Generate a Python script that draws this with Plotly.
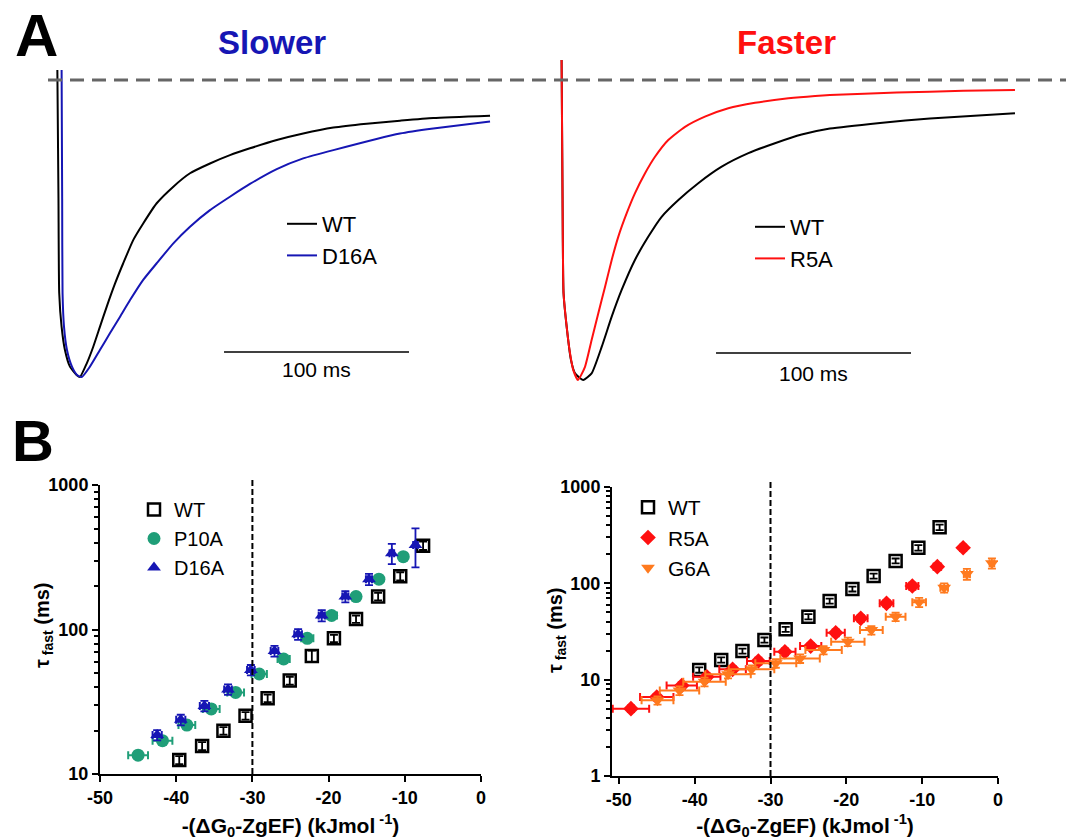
import plotly.graph_objects as go

FONT = "Arial, Liberation Sans, sans-serif"
W, H = 1066, 840

# ---------------- Panel A : normalized currents (time in ms) ----------------
slow_wt_t = [0.2, 0.8, 1.2, 2.5, 4.3, 7.0, 10.6, 12.4, 16.1, 19.6, 23.2, 26.9, 31.4, 35.8, 41.2, 46.6, 53.9, 62.9, 71.9, 82.7, 93.5, 104.3, 118.8, 133.1, 149.4, 167.4, 185.4, 203.4, 234.1]
slow_wt_i = [0.034, -0.40, -0.717, -0.831, -0.909, -0.965, -0.993, -1.0, -0.954, -0.898, -0.831, -0.763, -0.685, -0.617, -0.539, -0.483, -0.415, -0.359, -0.314, -0.281, -0.253, -0.230, -0.202, -0.180, -0.160, -0.147, -0.137, -0.128, -0.120]
slow_mut_t = [2.5, 2.8, 3.0, 3.8, 5.4, 8.1, 10.8, 13.4, 17.8, 23.2, 28.6, 34.1, 39.5, 46.6, 53.9, 62.9, 71.9, 82.7, 93.5, 104.3, 118.8, 133.1, 149.4, 185.4, 203.4, 234.1]
slow_mut_i = [0.034, -0.40, -0.717, -0.831, -0.909, -0.965, -0.993, -1.0, -0.965, -0.909, -0.853, -0.797, -0.741, -0.673, -0.617, -0.550, -0.494, -0.438, -0.393, -0.350, -0.300, -0.264, -0.236, -0.180, -0.163, -0.140]

fast_mut_t = [0.3, 0.8, 1.3, 2.9, 4.6, 6.3, 8.7, 12.3, 15.7, 19.1, 22.6, 26.0, 29.4, 33.7, 37.9, 43.1, 48.2, 55.0, 63.6, 73.8, 85.8, 99.5, 116.6, 130.3, 137.9, 172.2, 206.3, 232.8]
fast_mut_i = [0.067, -0.40, -0.71, -0.822, -0.91, -0.967, -1.0, -0.956, -0.867, -0.778, -0.689, -0.60, -0.522, -0.444, -0.378, -0.311, -0.256, -0.20, -0.156, -0.122, -0.094, -0.076, -0.061, -0.053, -0.05, -0.042, -0.036, -0.033]
fast_wt_t = [0.3, 0.8, 1.3, 2.9, 5.1, 7.2, 11.4, 15.7, 20.9, 26.0, 31.1, 37.9, 44.8, 51.6, 60.2, 70.4, 82.4, 96.1, 109.7, 123.4, 137.9, 163.6, 189.2, 232.8]
fast_wt_i = [0.067, -0.40, -0.71, -0.822, -0.933, -0.978, -1.0, -0.978, -0.889, -0.789, -0.70, -0.60, -0.522, -0.456, -0.40, -0.344, -0.289, -0.244, -0.211, -0.182, -0.162, -0.143, -0.128, -0.111]

# ---------------- Panel B : tau_fast vs -(dG0 - ZgEF) ----------------
x_tickvals = [-50, -40, -30, -20, -10, 0]
x_ticktext = ["-50", "-40", "-30", "-20", "-10", "0"]

L_wt_x = [-39.6, -36.6, -33.8, -30.9, -28.0, -25.1, -22.2, -19.3, -16.4, -13.5, -10.6, -7.6]
L_wt_y = [12.5, 15.6, 19.9, 25.3, 33.4, 44.3, 65.5, 86.9, 118, 169, 234, 380]
L_wt_ey = [0.8, 1.0, 1.2, 1.5, 2.0, 2.8, 6.0, 5.0, 7.0, 10, 15, 25]

L_p10_x = [-45.0, -41.8, -38.6, -35.4, -32.2, -29.1, -25.9, -22.8, -19.6, -16.4, -13.4, -10.2]
L_p10_y = [13.5, 17.0, 21.8, 28.2, 36.7, 49.2, 62.5, 86.9, 125, 169, 223, 319]
L_p10_ex = [1.3, 1.3, 1.1, 1.1, 1.1, 1.0, 0.8, 0.8, 0.7, 0.5, 0.4, 0.3]
L_p10_ey = [0.8, 1.0, 1.3, 1.6, 2.0, 2.8, 3.5, 5, 7, 9, 12, 18]

L_d16_x = [-42.5, -39.4, -36.3, -33.2, -30.2, -27.1, -24.0, -20.9, -17.8, -14.7, -11.7, -8.6]
L_d16_y = [18.6, 23.7, 29.6, 38.5, 52.5, 71.0, 92.7, 125, 169, 223, 337, 385]
L_d16_ex = [0.6, 0.6, 0.6, 0.5, 0.5, 0.5, 0.5, 0.4, 0.4, 0.4, 0.3, 0.3]
L_d16_ey = [1.5, 2.0, 2.5, 3.2, 4.3, 6.0, 8.0, 11, 15, 20, 54, 116]

R_wt_x = [-39.4, -36.5, -33.7, -30.8, -28.0, -25.0, -22.2, -19.2, -16.4, -13.5, -10.5, -7.7]
R_wt_y = [12.6, 16.0, 19.8, 25.8, 33.3, 45.0, 65.5, 87.3, 119, 171, 234, 381]
R_wt_ey = [0.8, 1.0, 1.2, 1.6, 2.0, 2.8, 4.0, 5.0, 7.0, 10, 15, 25]

R_r5_x = [-48.4, -45.0, -41.7, -38.4, -35.0, -31.6, -28.1, -24.7, -21.4, -18.1, -14.7, -11.3, -8.0, -4.6]
R_r5_y = [5.0, 6.6, 8.7, 10.7, 12.8, 15.6, 19.5, 22.3, 30.7, 43.3, 62.0, 93.8, 149, 234]
R_r5_ex = [2.4, 2.2, 2.0, 1.8, 1.75, 1.5, 1.4, 1.4, 1.2, 0.9, 0.9, 0.8, 0.5, 0.3]
R_r5_ey = [0.4, 0.5, 0.7, 0.9, 1.0, 1.3, 1.6, 1.8, 2.5, 3.5, 5.0, 8.0, 12, 18]

R_g6_x = [-44.9, -42.0, -38.7, -35.6, -32.5, -29.3, -26.1, -23.0, -19.8, -16.7, -13.5, -10.4, -7.1, -4.1, -0.8]
R_g6_y = [6.1, 7.7, 9.5, 11.4, 12.8, 14.8, 16.6, 20.3, 24.8, 32.7, 45.0, 63.6, 89.9, 125, 162]
R_g6_ex = [2.1, 2.6, 2.8, 3.0, 3.0, 2.7, 2.6, 2.4, 2.2, 1.5, 1.3, 0.9, 0.5, 0.4, 0.3]
R_g6_ey = [0.6, 0.8, 1.0, 1.1, 1.3, 1.5, 1.7, 2.0, 2.5, 3.3, 4.5, 7.0, 10, 16, 20]

BLACK = "#000000"
BLUE = "#1616b4"
GREEN = "#1f9e78"
RED = "#ff1010"
ORANGE = "#ff7a1e"

fig = go.Figure()

# ---- traces panel A ----
def trace_line(t, i, name, color, xa, ya, legend):
    fig.add_trace(go.Scatter(x=t, y=i, mode="lines", name=name,
                             line=dict(color=color, width=2, shape="spline", smoothing=0.5),
                             xaxis=xa, yaxis=ya, legend=legend))

trace_line(slow_wt_t, slow_wt_i, "WT", BLACK, "x3", "y3", "legend3")
trace_line(slow_mut_t, slow_mut_i, "D16A", BLUE, "x3", "y3", "legend3")
trace_line(fast_wt_t, fast_wt_i, "WT", BLACK, "x4", "y4", "legend4")
trace_line(fast_mut_t, fast_mut_i, "R5A", RED, "x4", "y4", "legend4")

# ---- scatter panel B ----
def pts(x, y, ex, ey, name, color, symbol, size, xa, ya, legend, open_=False):
    if open_:
        marker = dict(symbol=symbol, size=size, color=color, line=dict(color=color, width=2.5))
    else:
        marker = dict(symbol=symbol, size=size, color=color, line=dict(width=0))
    fig.add_trace(go.Scatter(
        x=x, y=y, mode="markers", name=name, marker=marker,
        error_x=dict(type="data", array=ex if ex is not None else [], color=color, thickness=2, width=4,
                     visible=ex is not None),
        error_y=dict(type="data", array=ey, color=color, thickness=1.8, width=4),
        xaxis=xa, yaxis=ya, legend=legend))

pts(L_wt_x, L_wt_y, None, L_wt_ey, "WT", BLACK, "square-open", 12, "x", "y", "legend", open_=True)
pts(L_p10_x, L_p10_y, L_p10_ex, L_p10_ey, "P10A", GREEN, "circle", 13, "x", "y", "legend")
pts(L_d16_x, L_d16_y, L_d16_ex, L_d16_ey, "D16A", BLUE, "triangle-up", 12, "x", "y", "legend")
pts(R_wt_x, R_wt_y, None, R_wt_ey, "WT", BLACK, "square-open", 12, "x2", "y2", "legend2", open_=True)
pts(R_r5_x, R_r5_y, R_r5_ex, R_r5_ey, "R5A", RED, "diamond", 12, "x2", "y2", "legend2")
pts(R_g6_x, R_g6_y, R_g6_ex, R_g6_ey, "G6A", ORANGE, "triangle-down", 12, "x2", "y2", "legend2")

def px(x):
    return x / W

def py(y):
    return 1 - y / H

tickfont = dict(family=FONT, size=18, color="black", weight="bold")
xtitle = "-(ΔG<sub>0</sub>-ZgEF) (kJmol<sup> -1</sup>)"

common_x = dict(showline=True, linecolor="black", linewidth=2, ticks="outside", ticklen=6,
                tickwidth=2, tickcolor="black", showgrid=False, zeroline=False, automargin=False,
                tickfont=tickfont, tickvals=x_tickvals, ticktext=x_ticktext,
                title=dict(text=xtitle, font=dict(family=FONT, size=21, color="black", weight="bold"), standoff=15))
common_y = dict(type="log", showline=True, linecolor="black", linewidth=2, ticks="outside", ticklen=6,
                tickwidth=2, tickcolor="black", showgrid=False, zeroline=False, tickfont=tickfont,
                automargin=False, dtick=1,
                minor=dict(ticks="outside", ticklen=4, tickwidth=1.5, tickcolor="black", showgrid=False))
hidden = dict(visible=False, automargin=False)

fig.update_layout(
    width=W, height=H, margin=dict(l=0, r=0, t=0, b=0, autoexpand=False),
    paper_bgcolor="white", plot_bgcolor="white",
    font=dict(family=FONT, color="black"),
    xaxis=dict(domain=[px(100), px(481)], range=[-50, 0], anchor="y", **common_x),
    yaxis=dict(domain=[py(774), py(485)], range=[1, 3], anchor="x", **common_y),
    xaxis2=dict(domain=[px(612), px(998)], range=[-50.9, 0], anchor="y2", **common_x),
    yaxis2=dict(domain=[py(776), py(487)], range=[0, 3], anchor="x2", **common_y),
    xaxis3=dict(domain=[px(48), px(530)], range=[-4.86, 255.7], anchor="y3", **hidden),
    yaxis3=dict(domain=[py(400), py(55)], range=[-1.0774, 0.0842], anchor="x3", **hidden),
    xaxis4=dict(domain=[px(540), 1.0], range=[-10.77, 258.97], anchor="y4", **hidden),
    yaxis4=dict(domain=[py(400), py(55)], range=[-1.0667, 0.0833], anchor="x4", **hidden),
)

def leg(x, y, size):
    return dict(x=px(x), y=py(y), bgcolor="rgba(0,0,0,0)", borderwidth=0, xanchor="left", yanchor="top",
                font=dict(family=FONT, size=size, color="black"), tracegroupgap=0, itemsizing="trace")

fig.update_layout(
    legend=leg(134, 490, 20),
    legend2=leg(628, 487, 21),
    legend3=leg(282, 203, 22),
    legend4=leg(750, 206, 22),
)

shapes = []
# baseline dashed line across panel A
shapes.append(dict(type="line", xref="paper", yref="paper", x0=px(48), x1=1.0, y0=py(80), y1=py(80),
                   line=dict(color="#666666", width=3, dash="14px,8px")))
# scale bars (100 ms)
shapes.append(dict(type="line", xref="x3", yref="y3", x0=90.3, x1=190.3, y0=-0.916, y1=-0.916,
                   line=dict(color="black", width=1.5)))
shapes.append(dict(type="line", xref="x4", yref="y4", x0=79.5, x1=179.5, y0=-0.91, y1=-0.91,
                   line=dict(color="black", width=1.5)))
# vertical dashed at -30
for xr, yr in (("x", "y"), ("x2", "y2")):
    shapes.append(dict(type="line", xref=xr, yref=yr + " domain", x0=-30, x1=-30, y0=0, y1=1.02,
                       line=dict(color="black", width=2, dash="6px,3px")))
fig.update_layout(shapes=shapes)

def label(text, x, y, size, color="black", bold=False, xref="paper", yref="paper", angle=0):
    f = dict(family=FONT, size=size, color=color)
    if bold:
        f["weight"] = "bold"
    return dict(text=text, xref=xref, yref=yref, x=x, y=y, showarrow=False, textangle=angle,
                xanchor="center", yanchor="middle", font=f)

ann = [
    label("100 ms", 140.3, -0.976, 21, xref="x3", yref="y3"),
    label("100 ms", 129.5, -0.977, 21, xref="x4", yref="y4"),
    label("Slower", px(272), py(42), 33, BLUE, True),
    label("Faster", px(786), py(42), 33, RED, True),
    label("A", px(36), py(36), 60, bold=True),
    label("B", px(33), py(440), 58, bold=True),
]
ytitle = "τ<sub> fast</sub> (ms)"
ann.append(label(ytitle, px(43), py(625), 20, bold=True, angle=-90))
ann.append(label(ytitle, px(556), py(630), 20, bold=True, angle=-90))
fig.update_layout(annotations=ann)

fig.write_html("out.html")
